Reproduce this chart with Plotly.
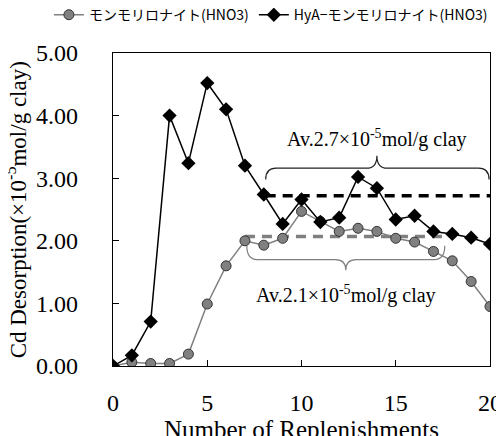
import plotly.graph_objects as go

replenishments = list(range(0, 21))
mont_hno3 = [0.00, 0.06, 0.04, 0.04, 0.19, 0.99, 1.60, 2.00, 1.93, 2.04, 2.47,
             2.31, 2.15, 2.20, 2.15, 2.04, 1.98, 1.83, 1.68, 1.35, 0.95]
hya_mont_hno3 = [0.00, 0.17, 0.71, 4.00, 3.24, 4.52, 4.10, 3.20, 2.74, 2.27, 2.66,
                 2.30, 2.37, 3.02, 2.84, 2.34, 2.40, 2.15, 2.11, 2.05, 1.95]
avg_mont_x = [7, 17.5]
avg_mont = 2.07
avg_hya_x = [8.1, 20]
avg_hya = 2.72
series_names = ["モンモリロナイト(HNO3)", "HyA−モンモリロナイト(HNO3)"]
label_hya = "Av.2.7×10<sup>-5</sup>mol/g clay"
label_mont = "Av.2.1×10<sup>-5</sup>mol/g clay"
y_title = "Cd Desorption(×10<sup>-5</sup>mol/g clay)"
x_title = "Number of Replenishments"
x_ticks = [0, 5, 10, 15, 20]
y_ticks = [0, 1, 2, 3, 4, 5]
y_tick_text = ["0.00", "1.00", "2.00", "3.00", "4.00", "5.00"]

SERIF = "Liberation Serif"

fig = go.Figure()

# average dashed lines (under the series)
fig.add_trace(go.Scatter(x=avg_hya_x, y=[avg_hya] * 2, mode="lines",
                         line=dict(color="black", width=3.5, dash="10px,7px"),
                         showlegend=False, hoverinfo="skip"))
fig.add_trace(go.Scatter(x=avg_mont_x, y=[avg_mont] * 2, mode="lines",
                         line=dict(color="#7f7f7f", width=3.5, dash="10px,7px"),
                         showlegend=False, hoverinfo="skip"))

fig.add_trace(go.Scatter(x=replenishments, y=mont_hno3, mode="lines+markers",
                         name=series_names[0],
                         line=dict(color="#808080", width=1.5),
                         marker=dict(symbol="circle", size=10, color="#808080",
                                     line=dict(color="#333333", width=1))))
fig.add_trace(go.Scatter(x=replenishments, y=hya_mont_hno3, mode="lines+markers",
                         name=series_names[1],
                         line=dict(color="black", width=1.5),
                         marker=dict(symbol="diamond", size=11, color="black",
                                     line=dict(color="black", width=0))))


def brace(x0, x1, xm, y_end, y_h, y_tip, dx=0.55):
    return (f"M {x0},{y_end} Q {x0},{y_h} {x0+dx},{y_h} "
            f"L {xm-dx},{y_h} Q {xm},{y_h} {xm},{y_tip} "
            f"Q {xm},{y_h} {xm+dx},{y_h} "
            f"L {x1-dx},{y_h} Q {x1},{y_h} {x1},{y_end}")


fig.add_shape(type="path", xref="x", yref="y",
              path=brace(8.1, 19.95, 14.0, 2.98, 3.16, 3.36),
              line=dict(color="#222222", width=1.2))
fig.add_shape(type="path", xref="x", yref="y",
              path=brace(7.1, 17.6, 12.35, 1.92, 1.70, 1.53),
              line=dict(color="#808080", width=1.2))

fig.add_annotation(x=14.0, y=3.63, xref="x", yref="y", text=label_hya,
                   showarrow=False, font=dict(family=SERIF, size=20, color="black"))
fig.add_annotation(x=12.35, y=1.15, xref="x", yref="y", text=label_mont,
                   showarrow=False, font=dict(family=SERIF, size=20, color="black"))

# y-axis title placed at a fixed spot left of the tick labels
fig.add_annotation(x=-0.255, y=0.5, xref="paper", yref="paper", text=y_title,
                   textangle=-90, xanchor="center", yanchor="middle", showarrow=False,
                   font=dict(family=SERIF, size=23, color="black"))

# the page body adds an 8px offset, so the margins are shifted by -8px
fig.update_layout(
    width=504, height=436,
    margin=dict(l=105, r=22, t=45, b=78, autoexpand=False),
    paper_bgcolor="white", plot_bgcolor="white",
    font=dict(family=SERIF, color="black"),
    showlegend=True,
    legend=dict(orientation="h", x=-0.17, y=1.121, xanchor="left", yanchor="middle",
                font=dict(family="Noto Sans CJK JP", size=14, color="black"),
                itemwidth=30, tracegroupgap=0, bgcolor="rgba(0,0,0,0)"),
    xaxis=dict(range=[0, 20], tickvals=x_ticks, ticks="inside", ticklen=6,
               tickcolor="black", showline=True, linecolor="black", linewidth=1.2,
               mirror=True, showgrid=False, zeroline=False, automargin=False,
               ticklabelstandoff=15,
               tickfont=dict(family=SERIF, size=24, color="black"),
               title=dict(text=x_title, standoff=0,
                          font=dict(family=SERIF, size=25, color="black"))),
    yaxis=dict(range=[0, 5], tickvals=y_ticks, ticktext=y_tick_text, ticks="inside",
               ticklen=6, tickcolor="black", showline=True, linecolor="black",
               linewidth=1.2, mirror=True, showgrid=False, zeroline=False,
               automargin=False, ticklabelstandoff=29,
               tickfont=dict(family=SERIF, size=24, color="black")),
)

fig.write_html("out.html")
